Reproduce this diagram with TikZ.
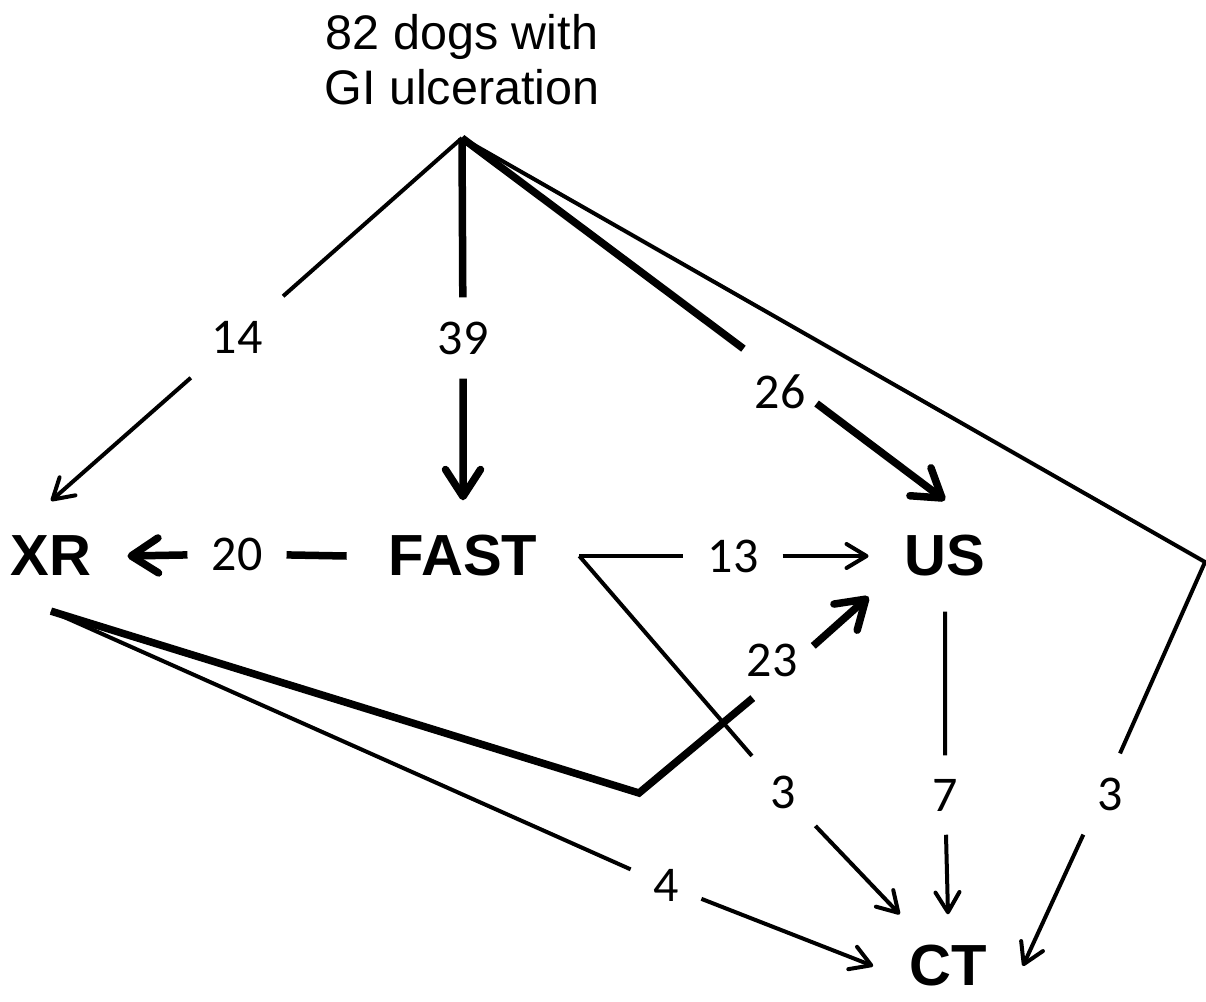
\documentclass[tikz,border=0pt]{standalone}
\usepackage{fontspec}
\setmainfont{Liberation Sans}
\newfontfamily\numfont{Carlito}
\usetikzlibrary{arrows.meta}
\begin{document}
\begin{tikzpicture}[x=1pt,y=-1pt,
  box/.style={font=\fontsize{58}{58}\selectfont\bfseries, inner xsep=36pt, inner ysep=35pt},
  lab/.style={font=\numfont\fontsize{50}{50}\selectfont, inner sep=#1},
  lab/.default=24pt,
  thinline/.style={line width=4pt, -{Straight Barb[round,length=20pt,width=24pt]}},
  thickline/.style={line width=7.5pt, -{Straight Barb[round,length=27pt,width=35pt]}},
]
\useasboundingbox[fill=white] (0,0) rectangle (1206,1001);

% main nodes
\node[font=\fontsize{48.5}{55}\selectfont, align=center, inner xsep=0pt, inner ysep=33pt,
      text depth=0pt, anchor=south] (top) at (462,138) {82 dogs with\\GI ulceration};
\node[box] (XR) at (51,556) {XR};
\node[box, inner xsep=42pt] (FAST) at (463,556) {FAST};
\node[box] (US) at (945,556) {US};
\node[box, inner ysep=31pt] (CT) at (948,966) {CT};

% corner points
\coordinate (cR) at (1205,562);
\coordinate (cB) at (639,793);

% count labels
\node[lab=24.5pt] (l14) at (237,337) {14};
\node[lab=24pt] (l39) at (463,338) {39};
\node[lab=11pt] (l26) at (780,376) {\raisebox{-16pt}[\height][\depth]{26}};
\node[lab=24pt] (l20) at (237,554) {20};
\node[lab=24pt] (l13) at (733,556) {13};
\node[lab=9.5pt] (l23) at (784,672) {\raisebox{11.5pt}[\height][\depth]{\hspace*{-12pt}23\hspace*{12pt}}};
\node[lab=19.5pt] (l3a) at (783,792) {3};
\node[lab=23.5pt] (l7) at (945,795) {7};
\node[lab=24pt] (l3b) at (1102,794) {\hspace*{8pt}3\hspace*{-8pt}};
\node[lab=22.5pt] (l4) at (666,885) {4};

% connectors
\draw[thinline]  (top.south) -- (l14) -- (XR.north);
\draw[thickline] (top.south) -- (l39) -- (FAST.north);
\draw[thickline] (top.south) -- (l26) -- (US.north);
\draw[thinline]  (top.south) -- (cR) -- (l3b) -- (CT.east);
\draw[thickline] (FAST.west) -- (l20) -- (XR.east);
\draw[thinline]  (FAST.east) -- (l13) -- (US.west);
\draw[thinline]  (FAST.east) -- (l3a) -- (CT.133);
\draw[thinline]  (US.south) -- (l7) -- (CT.north);
\draw[thickline] (XR.south) -- (cB) -- (l23) -- (US.208);
\draw[thinline]  (XR.south) -- (l4) -- (CT.west);
\end{tikzpicture}
\end{document}
